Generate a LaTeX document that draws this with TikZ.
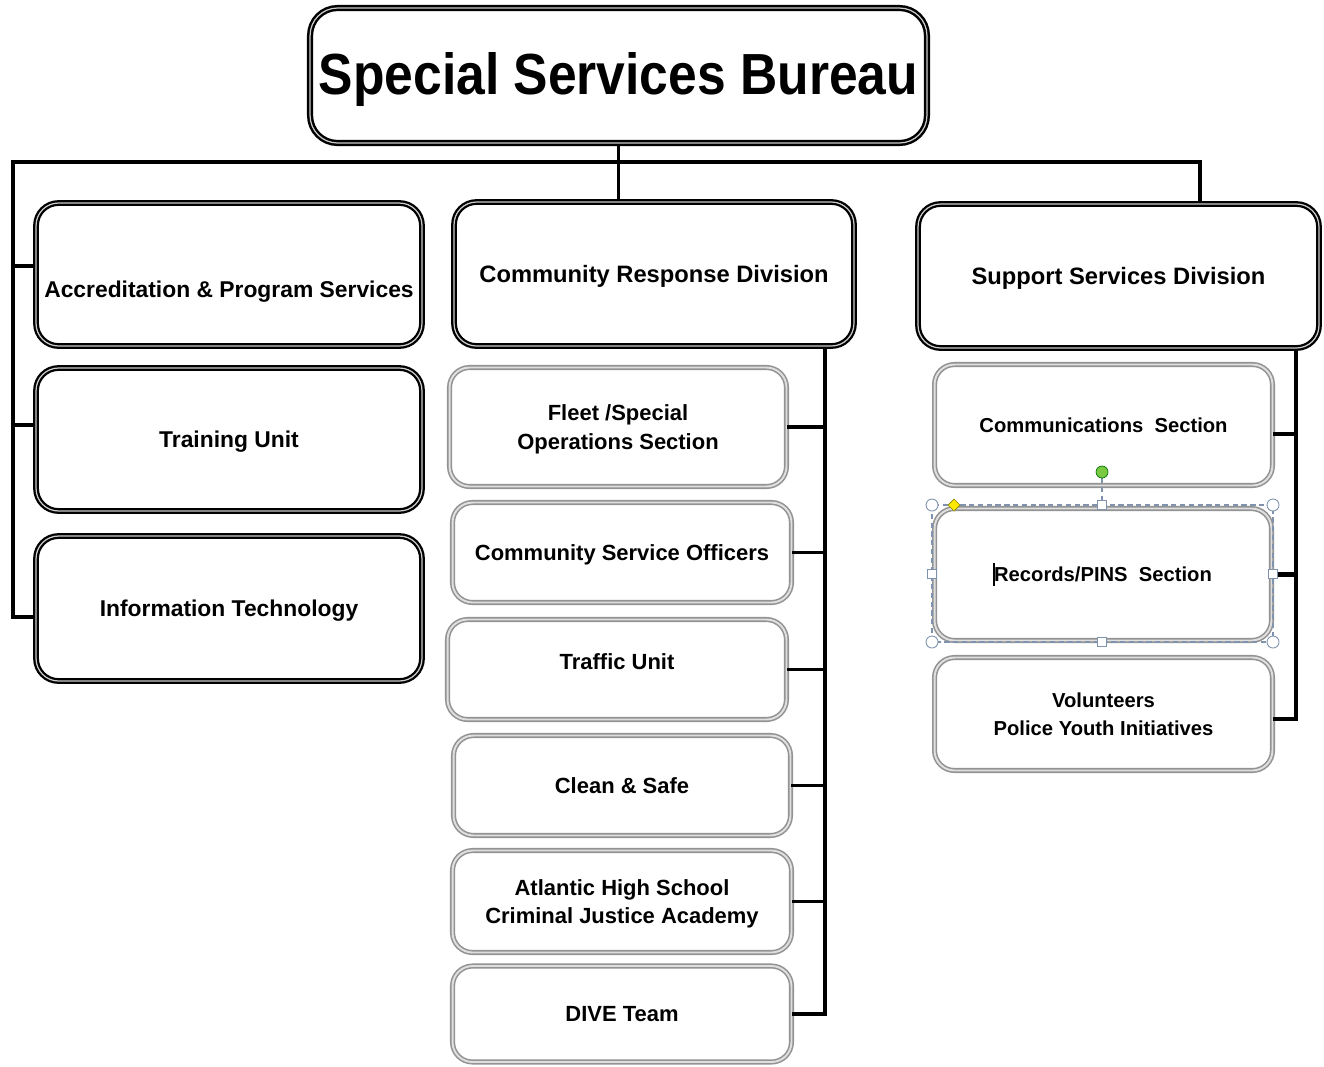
\documentclass[tikz,border=0pt]{standalone}
\usepackage{fontspec}
\setmainfont{Liberation Sans}
\definecolor{handlegreen}{HTML}{7AC943}
\definecolor{selblue}{HTML}{7F93AE}

\begin{document}
\begin{tikzpicture}[
  x=0.02cm, y=-0.02cm,
  topbox/.style={
    draw=black,
    double=gray!40,
    double distance=0.7pt,
    line width=1.4pt,
    rounded corners=0.55cm,
    fill=white,
    inner sep=0pt,
    text height=1.02cm,
    text depth=0.25cm,
    font=\bfseries\fontsize{33}{38}\selectfont
  },
  divbox/.style={
    draw=black,
    double=gray!40,
    double distance=0.7pt,
    line width=1.3pt,
    rounded corners=0.45cm,
    fill=white,
    inner sep=2pt,
    align=center,
    text depth=0pt,
    font=\bfseries\fontsize{13}{15.6}\selectfont
  },
  unitbox/.style={
    draw=gray!85,
    double=gray!25,
    double distance=1.1pt,
    line width=0.9pt,
    rounded corners=0.4cm,
    fill=white,
    inner sep=2pt,
    align=center,
    text depth=0pt,
    font=\bfseries\fontsize{12.5}{16.2}\selectfont
  },
  rightunit/.style={
    unitbox,
    font=\bfseries\fontsize{11.5}{15.8}\selectfont
  },
  link/.style={line width=2pt},
  thicklink/.style={line width=2.6pt},
  selline/.style={draw=selblue, line width=0.6pt, dash pattern=on 3pt off 2pt},
  handle/.style={draw=selblue, fill=white, line width=0.5pt}
]
\useasboundingbox (0,0) rectangle (1324,1066);

% Bureau and divisions
\node[topbox, minimum width=12.34cm, minimum height=2.7cm] (ssb) at (618.5,75.5)
  {\scalebox{0.89}[1]{Special Services Bureau}};
\node[divbox, minimum width=7.72cm, minimum height=2.86cm,
  text height=1.02cm, text depth=0.09cm] (acc) at (229,274.5)
  {Accreditation \& Program Services};
\node[divbox, minimum width=7.72cm, minimum height=2.86cm] (train) at (229,439.5)
  {Training Unit};
\node[divbox, minimum width=7.72cm, minimum height=2.9cm] (info) at (229,608.5)
  {Information Technology};
\node[divbox, minimum width=8cm, minimum height=2.88cm,
  font=\bfseries\fontsize{13.5}{16}\selectfont] (crd) at (654,274)
  {Community Response Division};
\node[divbox, minimum width=8.02cm, minimum height=2.88cm,
  font=\bfseries\fontsize{13.5}{16}\selectfont] (ssd) at (1118.5,276)
  {Support Services Division};

% Community Response units
\node[unitbox, minimum width=6.74cm, minimum height=2.38cm] (fleet) at (618,427)
  {Fleet /Special\\Operations Section};
\node[unitbox, minimum width=6.78cm, minimum height=2cm] (cso) at (622,552.5)
  {Community Service Officers};
\node[unitbox, minimum width=6.78cm, minimum height=2cm,
  text height=0.05cm, text depth=0.07cm] (traffic) at (617,669.5)
  {Traffic Unit};
\node[unitbox, minimum width=6.74cm, minimum height=2cm] (clean) at (622,785.5)
  {Clean \& Safe};
\node[unitbox, minimum width=6.78cm, minimum height=2.04cm] (ahs) at (622,901.5)
  {Atlantic High School\\Criminal Justice Academy};
\node[unitbox, minimum width=6.78cm, minimum height=1.92cm] (dive) at (622,1014)
  {DIVE Team};

% Support Services units
\node[rightunit, minimum width=6.76cm, minimum height=2.42cm] (comm) at (1103.5,425)
  {Communications\ \ Section};
\node[rightunit, minimum width=6.74cm, minimum height=2.64cm] (rec) at (1103,574.5)
  {Records/PINS\ \ Section};
\node[rightunit, minimum width=6.76cm, minimum height=2.26cm] (vol) at (1103.5,714)
  {Volunteers\\Police\ Youth\ Initiatives};

% spines
\coordinate (lspine) at (13,162);
\coordinate (rbus) at (1200,162);
\coordinate (mspine) at (825,0);
\coordinate (rspine) at (1296,0);
\coordinate (acchook) at ([yshift=0.17cm]acc.west);
\coordinate (trainhook) at ([yshift=0.29cm]train.west);
\coordinate (infohook) at ([yshift=-0.17cm]info.west);
\coordinate (commhook) at ([yshift=-0.18cm]comm.east);
\coordinate (volhook) at ([yshift=-0.1cm]vol.east);

\draw[link] (ssb.south) -- (ssb.south |- crd.north);
\draw[link] (infohook) -| (lspine) -- (rbus) -- (rbus |- ssd.north);
\draw[link] (acchook) -- (acchook -| lspine);
\draw[link] (trainhook) -- (trainhook -| lspine);

\draw[link] (crd.south -| mspine) |- (dive.east);
\foreach \u in {fleet,cso,traffic,clean,ahs}
  \draw[link] (\u.east) -- (\u.east -| mspine);

\draw[thicklink] (ssd.south -| rspine) |- (volhook);
\draw[thicklink] (commhook) -- (commhook -| rspine);
\draw[thicklink] (rec.east) -- (rec.east -| rspine);

% selection handles on the records box
\draw[selline] (932,505) rectangle (1273,642);
\draw[selline] (1102,478) -- (1102,500);
\foreach \hx/\hy in {932/505,1273/505,932/642,1273/642}
  \draw[handle] (\hx,\hy) circle [radius=0.12cm];
\foreach \hx/\hy in {1102/505,1102/642,932/574,1273/574}
  \draw[handle] (\hx-4.5,\hy-4.5) rectangle (\hx+4.5,\hy+4.5);
\draw[draw=green!45!black, fill=handlegreen, line width=0.4pt] (1102,472) circle [radius=0.12cm];
\draw[draw=olive, fill=yellow!90!orange, line width=0.4pt]
  (954,499) -- (960,505) -- (954,511) -- (948,505) -- cycle;
\draw[line width=1pt] (994,563) -- (994,586);
\end{tikzpicture}
\end{document}
